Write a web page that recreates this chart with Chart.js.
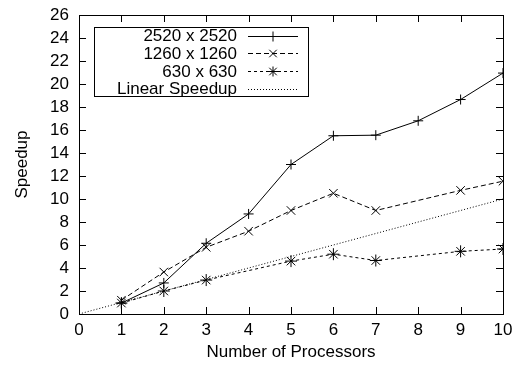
<!DOCTYPE html>
<html>
<head>
<meta charset="utf-8">
<script src="https://cdn.jsdelivr.net/npm/chart.js@4"></script>
<style>
  html, body { margin: 0; padding: 0; background: #fff; }
  #wrap { width: 513px; height: 365px; }
</style>
</head>
<body>
<div id="wrap"><canvas id="speedup" width="513" height="365"></canvas></div>
<script>
// values
var processors   = [1, 2, 3, 4, 5, 6, 7, 8, 9, 10];
var speedup2520  = [0.95, 2.7, 6.15, 8.7, 13.0, 15.5, 15.55, 16.8, 18.65, 20.95];
var speedup1260  = [1.2, 3.65, 5.8, 7.2, 9.0, 10.5, 9.0, null, 10.75, 11.55];
var speedup630   = [0.95, 2.0, 2.95, null, 4.6, 5.2, 4.65, null, 5.45, 5.65];
var linearProcs  = [0, 10];
var linearSpeed  = [0, 10];
var xTicks = [0, 1, 2, 3, 4, 5, 6, 7, 8, 9, 10];
var yTicks = [0, 2, 4, 6, 8, 10, 12, 14, 16, 18, 20, 22, 24, 26];

var FONT = "'Liberation Sans', Arial, sans-serif";
var FS = 17;
var INK = '#000';

function pts(xs, ys) {
    var out = [];
    for (var i = 0; i < xs.length; i++) {
        if (ys[i] === null) continue;
        out.push({x: xs[i], y: ys[i]});
    }
    return out;
}

function marker(ctx, style, x, y, r) {
    ctx.beginPath();
    if (style === 'cross' || style === 'star') {
        ctx.moveTo(x - r, y); ctx.lineTo(x + r, y);
        ctx.moveTo(x, y - r); ctx.lineTo(x, y + r);
    }
    if (style === 'crossRot' || style === 'star') {
        var d = r * 0.75;
        ctx.moveTo(x - d, y - d); ctx.lineTo(x + d, y + d);
        ctx.moveTo(x - d, y + d); ctx.lineTo(x + d, y - d);
    }
    ctx.stroke();
}

// frame + inward tick marks, gnuplot style
var frame = {
    id: 'frame',
    afterDraw: function(chart) {
        var ctx = chart.ctx, a = chart.chartArea;
        var xs = chart.scales.x, ys = chart.scales.y;
        ctx.save();
        ctx.strokeStyle = INK;
        ctx.lineWidth = 1;
        ctx.setLineDash([]);
        ctx.beginPath();
        xTicks.forEach(function(v) {
            var px = Math.round(xs.getPixelForValue(v)) + 0.5;
            ctx.moveTo(px, a.bottom); ctx.lineTo(px, a.bottom - 7);
            ctx.moveTo(px, a.top); ctx.lineTo(px, a.top + 7);
        });
        yTicks.forEach(function(v) {
            var py = Math.round(ys.getPixelForValue(v)) + 0.5;
            ctx.moveTo(a.left, py); ctx.lineTo(a.left + 7, py);
            ctx.moveTo(a.right, py); ctx.lineTo(a.right - 7, py);
        });
        ctx.stroke();
        ctx.strokeRect(Math.round(a.left) + 0.5, Math.round(a.top) + 0.5,
                       Math.round(a.right - a.left), Math.round(a.bottom - a.top));
        ctx.restore();
    }
};

// key box in the top left corner: text right aligned, sample on the right
var keyBox = {
    id: 'keyBox',
    afterDraw: function(chart) {
        var ctx = chart.ctx, a = chart.chartArea;
        var left = a.left + 15, top = a.top + 12, w = 214, rowH = 17.7;
        var sets = chart.data.datasets;
        ctx.save();
        ctx.strokeStyle = INK;
        ctx.lineWidth = 1;
        ctx.strokeRect(Math.round(left) + 0.5, Math.round(top) + 0.5, w, Math.round(rowH * (sets.length - 1) + 16));
        ctx.font = FS + 'px ' + FONT;
        ctx.fillStyle = INK;
        ctx.textAlign = 'right';
        ctx.textBaseline = 'middle';
        sets.forEach(function(ds, i) {
            var cy = top + 8 + rowH * i + 0.5;
            ctx.fillText(ds.label, left + 143, cy + 1);
            ctx.setLineDash(ds.borderDash || []);
            ctx.beginPath();
            ctx.moveTo(left + 154, Math.round(cy) + 0.5);
            ctx.lineTo(left + 204, Math.round(cy) + 0.5);
            ctx.stroke();
            ctx.setLineDash([]);
            if (ds.pointRadius > 0) marker(ctx, ds.pointStyle, left + 179, Math.round(cy) + 0.5, 5);
        });
        ctx.restore();
    }
};

var chart = new Chart(document.getElementById('speedup'), {
    type: 'scatter',
    data: {
        datasets: [
            {
                label: '2520 x 2520',
                data: pts(processors, speedup2520),
                showLine: true,
                borderColor: INK, backgroundColor: INK,
                borderWidth: 1,
                pointStyle: 'cross', pointRadius: 5, pointBorderWidth: 1
            },
            {
                label: '1260 x 1260',
                data: pts(processors, speedup1260),
                showLine: true,
                borderColor: INK, backgroundColor: INK,
                borderWidth: 1, borderDash: [5, 3],
                pointStyle: 'crossRot', pointRadius: 6, pointBorderWidth: 1
            },
            {
                label: '630 x 630',
                data: pts(processors, speedup630),
                showLine: true,
                borderColor: INK, backgroundColor: INK,
                borderWidth: 1, borderDash: [3, 3],
                pointStyle: 'star', pointRadius: 6, pointBorderWidth: 1
            },
            {
                label: 'Linear Speedup',
                data: pts(linearProcs, linearSpeed),
                showLine: true,
                borderColor: INK,
                borderWidth: 1, borderDash: [1, 2],
                pointRadius: 0
            }
        ]
    },
    options: {
        responsive: false,
        animation: false,
        devicePixelRatio: 1,
        layout: { padding: { top: 15, right: 10, left: 0, bottom: 0 } },
        plugins: { legend: { display: false }, tooltip: { enabled: false } },
        scales: {
            x: {
                type: 'linear', min: 0, max: 10,
                afterBuildTicks: function(s) { s.ticks = xTicks.map(function(v) { return {value: v}; }); },
                afterFit: function(s) { s.height = 51; s.paddingLeft = 0; s.paddingRight = 0; },
                grid: { display: false, drawTicks: false },
                border: { display: false },
                ticks: { color: INK, font: { family: FONT, size: FS }, padding: 6, maxRotation: 0, autoSkip: false },
                title: { display: true, text: 'Number of Processors', color: INK,
                         font: { family: FONT, size: FS }, padding: { top: 4, bottom: 2 } }
            },
            y: {
                type: 'linear', min: 0, max: 26,
                afterBuildTicks: function(s) { s.ticks = yTicks.map(function(v) { return {value: v}; }); },
                afterFit: function(s) { s.width = 79; s.paddingTop = 0; s.paddingBottom = 0; },
                grid: { display: false, drawTicks: false },
                border: { display: false },
                ticks: { color: INK, font: { family: FONT, size: FS }, padding: 10, autoSkip: false },
                title: { display: true, text: 'Speedup', color: INK,
                         font: { family: FONT, size: FS }, padding: { top: 12, bottom: 4 } }
            }
        }
    },
    plugins: [frame, keyBox]
});
</script>
</body>
</html>
